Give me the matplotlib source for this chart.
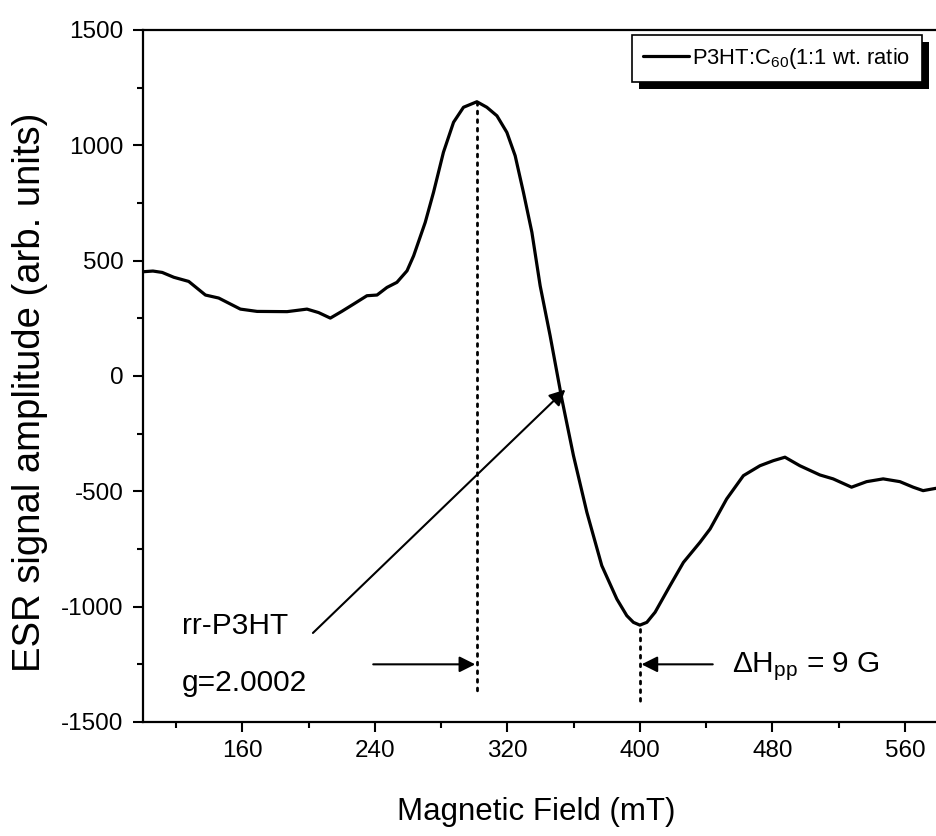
import matplotlib
matplotlib.use("Agg")
import matplotlib.pyplot as plt
from matplotlib.patches import Rectangle
from matplotlib.transforms import IdentityTransform

plt.rcParams['font.family'] = ['Liberation Sans', 'DejaVu Sans']
plt.rcParams['mathtext.default'] = 'regular'
plt.rcParams['axes.unicode_minus'] = False

# ---- data ----
field = [100, 106, 111.6, 118.6, 127.6, 137.7, 145.7, 158.8, 168.9, 187, 199, 206, 213.1, 220,
         227.2, 235.2, 241.3, 247.3, 253.3, 259.4, 263.4, 270.4, 275.4, 281.4, 287.5, 293.5,
         301.6, 307.6, 313.7, 319.7, 324.7, 329.7, 334.8, 339.8, 345.8, 352.9, 359.9, 368,
         377, 386.1, 392.1, 396.1, 400, 404.2, 409.2, 418.2, 426.3, 436.3, 442.4, 452.4,
         462.5, 472.5, 480.6, 487.6, 496.6, 508.7, 516.7, 527.8, 536.9, 546.9, 557, 565,
         571, 578.7]
amplitude = [452, 455, 449, 428, 410, 351, 338, 290, 280, 279, 290, 275, 251, 280,
             312, 348, 351, 384, 406, 456, 521, 666, 796, 970, 1100, 1165,
             1189, 1165, 1128, 1056, 955, 796, 623, 391, 175, -100, -345, -591,
             -822, -967, -1039, -1068, -1080, -1068, -1024, -909, -808, -721, -663, -533,
             -432, -389, -367, -352, -389, -429, -446, -482, -458, -446, -458, -482,
             -497, -487]
series_label = "P3HT:C$_{60}$(1:1 wt. ratio"
peak_field, peak_amp = 301.6, 1189
trough_field, trough_amp = 400, -1080

xticks = [160, 240, 320, 400, 480, 560]
yticks = [-1500, -1000, -500, 0, 500, 1000, 1500]

fig = plt.figure(figsize=(9.36, 8.36), dpi=100)
W, H = 936, 836
ax_l, ax_r, ax_t, ax_b = 143, 938, 30, 722
ax = fig.add_axes([ax_l / W, 1 - ax_b / H, (ax_r - ax_l) / W, (ax_b - ax_t) / H])

ax.plot(field, amplitude, color='black', lw=2.3, solid_joinstyle='round',
        solid_capstyle='round', label=series_label, zorder=3)

# dotted markers
ax.plot([peak_field, peak_field], [peak_amp, -1385], color='black', lw=2.0,
        linestyle=(0, (1, 2.1)), dash_capstyle='round')
ax.plot([trough_field, trough_field], [trough_amp - 15, -1430], color='black', lw=2.0,
        linestyle=(0, (1, 2.1)), dash_capstyle='round')

arrow_kw = dict(arrowstyle='-|>', mutation_scale=24, lw=1.5, color='black',
                shrinkA=0, shrinkB=0)
ax.annotate('', xy=(peak_field - 1, -1250), xytext=(239, -1250), arrowprops=arrow_kw)
ax.annotate('', xy=(trough_field + 1, -1250), xytext=(444, -1250), arrowprops=arrow_kw)
ax.annotate('', xy=(355, -59), xytext=(202.6, -1114), arrowprops=arrow_kw)

ax.text(123.6, -1118, 'rr-P3HT', fontsize=21.5, ha='left', va='baseline')
ax.text(123.6, -1365, 'g=2.0002', fontsize=21.5, ha='left', va='baseline')
ax.text(455.5, -1283, r'$\Delta$H$_{pp}$ = 9 G', fontsize=21.5, ha='left', va='baseline')

ax.set_xlim(100, 580)
ax.set_ylim(-1500, 1500)
ax.set_xticks(xticks)
ax.set_xticks([120, 200, 280, 360, 440, 520], minor=True)
ax.set_yticks(yticks)
ax.set_yticks([-1250, -750, -250, 250, 750, 1250], minor=True)
ax.tick_params(which='major', direction='out', length=7, width=1.5, labelsize=17.5, pad=6)
ax.tick_params(axis='y', which='major', pad=7)
ax.tick_params(which='minor', direction='out', length=4.5, width=1.5)
ax.tick_params(axis='x', which='both', top=False)
ax.tick_params(axis='y', which='both', right=False)
for s in ['left', 'bottom', 'top']:
    ax.spines[s].set_linewidth(1.6)
ax.spines['right'].set_visible(False)

ax.set_xlabel('Magnetic Field (mT)', fontsize=22.5)
ax.set_ylabel('ESR signal amplitude (arb. units)', fontsize=27.5)
ax.xaxis.set_label_coords(((398 + 675) / 2 - ax_l) / (ax_r - ax_l), -(797 - ax_b) / (ax_b - ax_t))
ax.yaxis.set_label_coords(-(143 - 48) / (ax_r - ax_l), 1 - (392 - ax_t) / (ax_b - ax_t))

leg = ax.legend(loc='upper left', bbox_to_anchor=(632 / W, 1 - 35 / H), bbox_transform=fig.transFigure,
                fontsize=15.8, frameon=True, fancybox=False, handlelength=2.1, handletextpad=0.15,
                borderpad=0.5, borderaxespad=0, framealpha=1)
leg.get_frame().set_edgecolor('black')
leg.get_frame().set_linewidth(1.2)
leg.set_zorder(10)

fig.canvas.draw()
bb = leg.get_window_extent()
shadow = Rectangle((bb.x0 + 7, bb.y0 - 7), bb.width, bb.height, transform=IdentityTransform(),
                   facecolor='black', edgecolor='none', zorder=9, clip_on=False)
ax.add_artist(shadow)

fig.savefig('out.png', dpi=100)
